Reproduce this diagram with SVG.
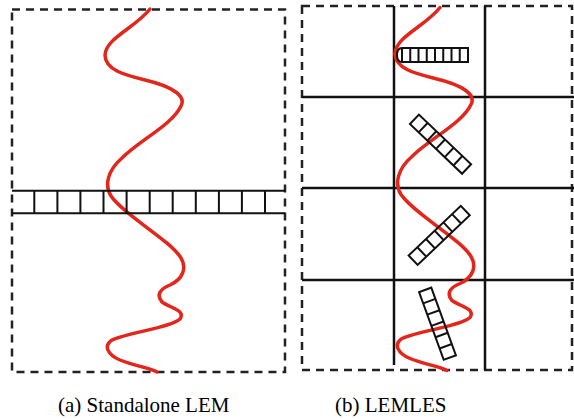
<svg xmlns="http://www.w3.org/2000/svg" width="574" height="419" viewBox="0 0 574 419">
<style>
.dash{fill:none;stroke:#222;stroke-width:2.5;stroke-dasharray:8 6}
.grid{fill:none;stroke:#111;stroke-width:2.5}
.ladl{fill:none;stroke:#111;stroke-width:2}
.curve{fill:none;stroke:#e3261b;stroke-width:3.5;stroke-linecap:round}
</style>
<defs>
<path id="wave" d="M150,9 C135,28 106,38 105,55 C105,70 125,75 145,80 C175,87 186,97 181,106 C172,125 140,140 122,158 C108,170 104,185 111,196 C125,216 170,240 181,258 C187,268 183,279 170,285 C160,289 156,295 162,302 C170,308 186,310 180,319 C170,328 130,332 112,340 C103,346 108,355 120,360 C135,366 150,368 157,372"/>
<g id="lad6">
<rect x="-36" y="-6.5" width="72" height="13" fill="none"/>
<path d="M-24,-6.5V6.5M-12,-6.5V6.5M0,-6.5V6.5M12,-6.5V6.5M24,-6.5V6.5"/>
</g>
</defs>

<g id="panel-a">
<rect class="dash" x="12" y="9.5" width="273" height="362.5"/>
<use href="#wave" class="curve"/>
<g id="ladder-a" class="ladl">
<path d="M12,190.7H285M12,213.3H285"/>
<path d="M34.3,190.7V213.3M57.4,190.7V213.3M80.4,190.7V213.3M103.5,190.7V213.3M126.6,190.7V213.3M149.7,190.7V213.3M172.7,190.7V213.3M195.8,190.7V213.3M218.9,190.7V213.3M241.9,190.7V213.3M265,190.7V213.3"/>
</g>
</g>

<g id="panel-b">
<rect class="dash" x="302" y="6" width="270" height="364"/>
<g id="grid" class="grid">
<path d="M394,6V365M485,6V370"/>
<path d="M302,97H574M302,188H574M302,280H574"/>
</g>
<use href="#wave" class="curve" transform="translate(290,-1.5)"/>
<g id="ladder-b1" class="ladl">
<path d="M468,48H402Q397,48 397,55Q397,62 402,62H468Z"/>
<path d="M402,48V62M410.25,48V62M418.5,48V62M426.75,48V62M435,48V62M443.25,48V62M451.5,48V62M459.75,48V62"/>
</g>
<g id="ladder-b2" class="ladl" transform="translate(440.5,144.2) rotate(43.6)"><use href="#lad6"/></g>
<g id="ladder-b3" class="ladl" transform="translate(439.2,235.4) rotate(-43.6)"><use href="#lad6"/></g>
<g id="ladder-b4" class="ladl" transform="translate(437.5,323.7) rotate(70)"><use href="#lad6"/></g>
</g>

<text x="58" y="412" font-size="21" font-family="Liberation Serif">(a) Standalone LEM</text>
<text x="335" y="412" font-size="21" font-family="Liberation Serif">(b) LEMLES</text>
</svg>
